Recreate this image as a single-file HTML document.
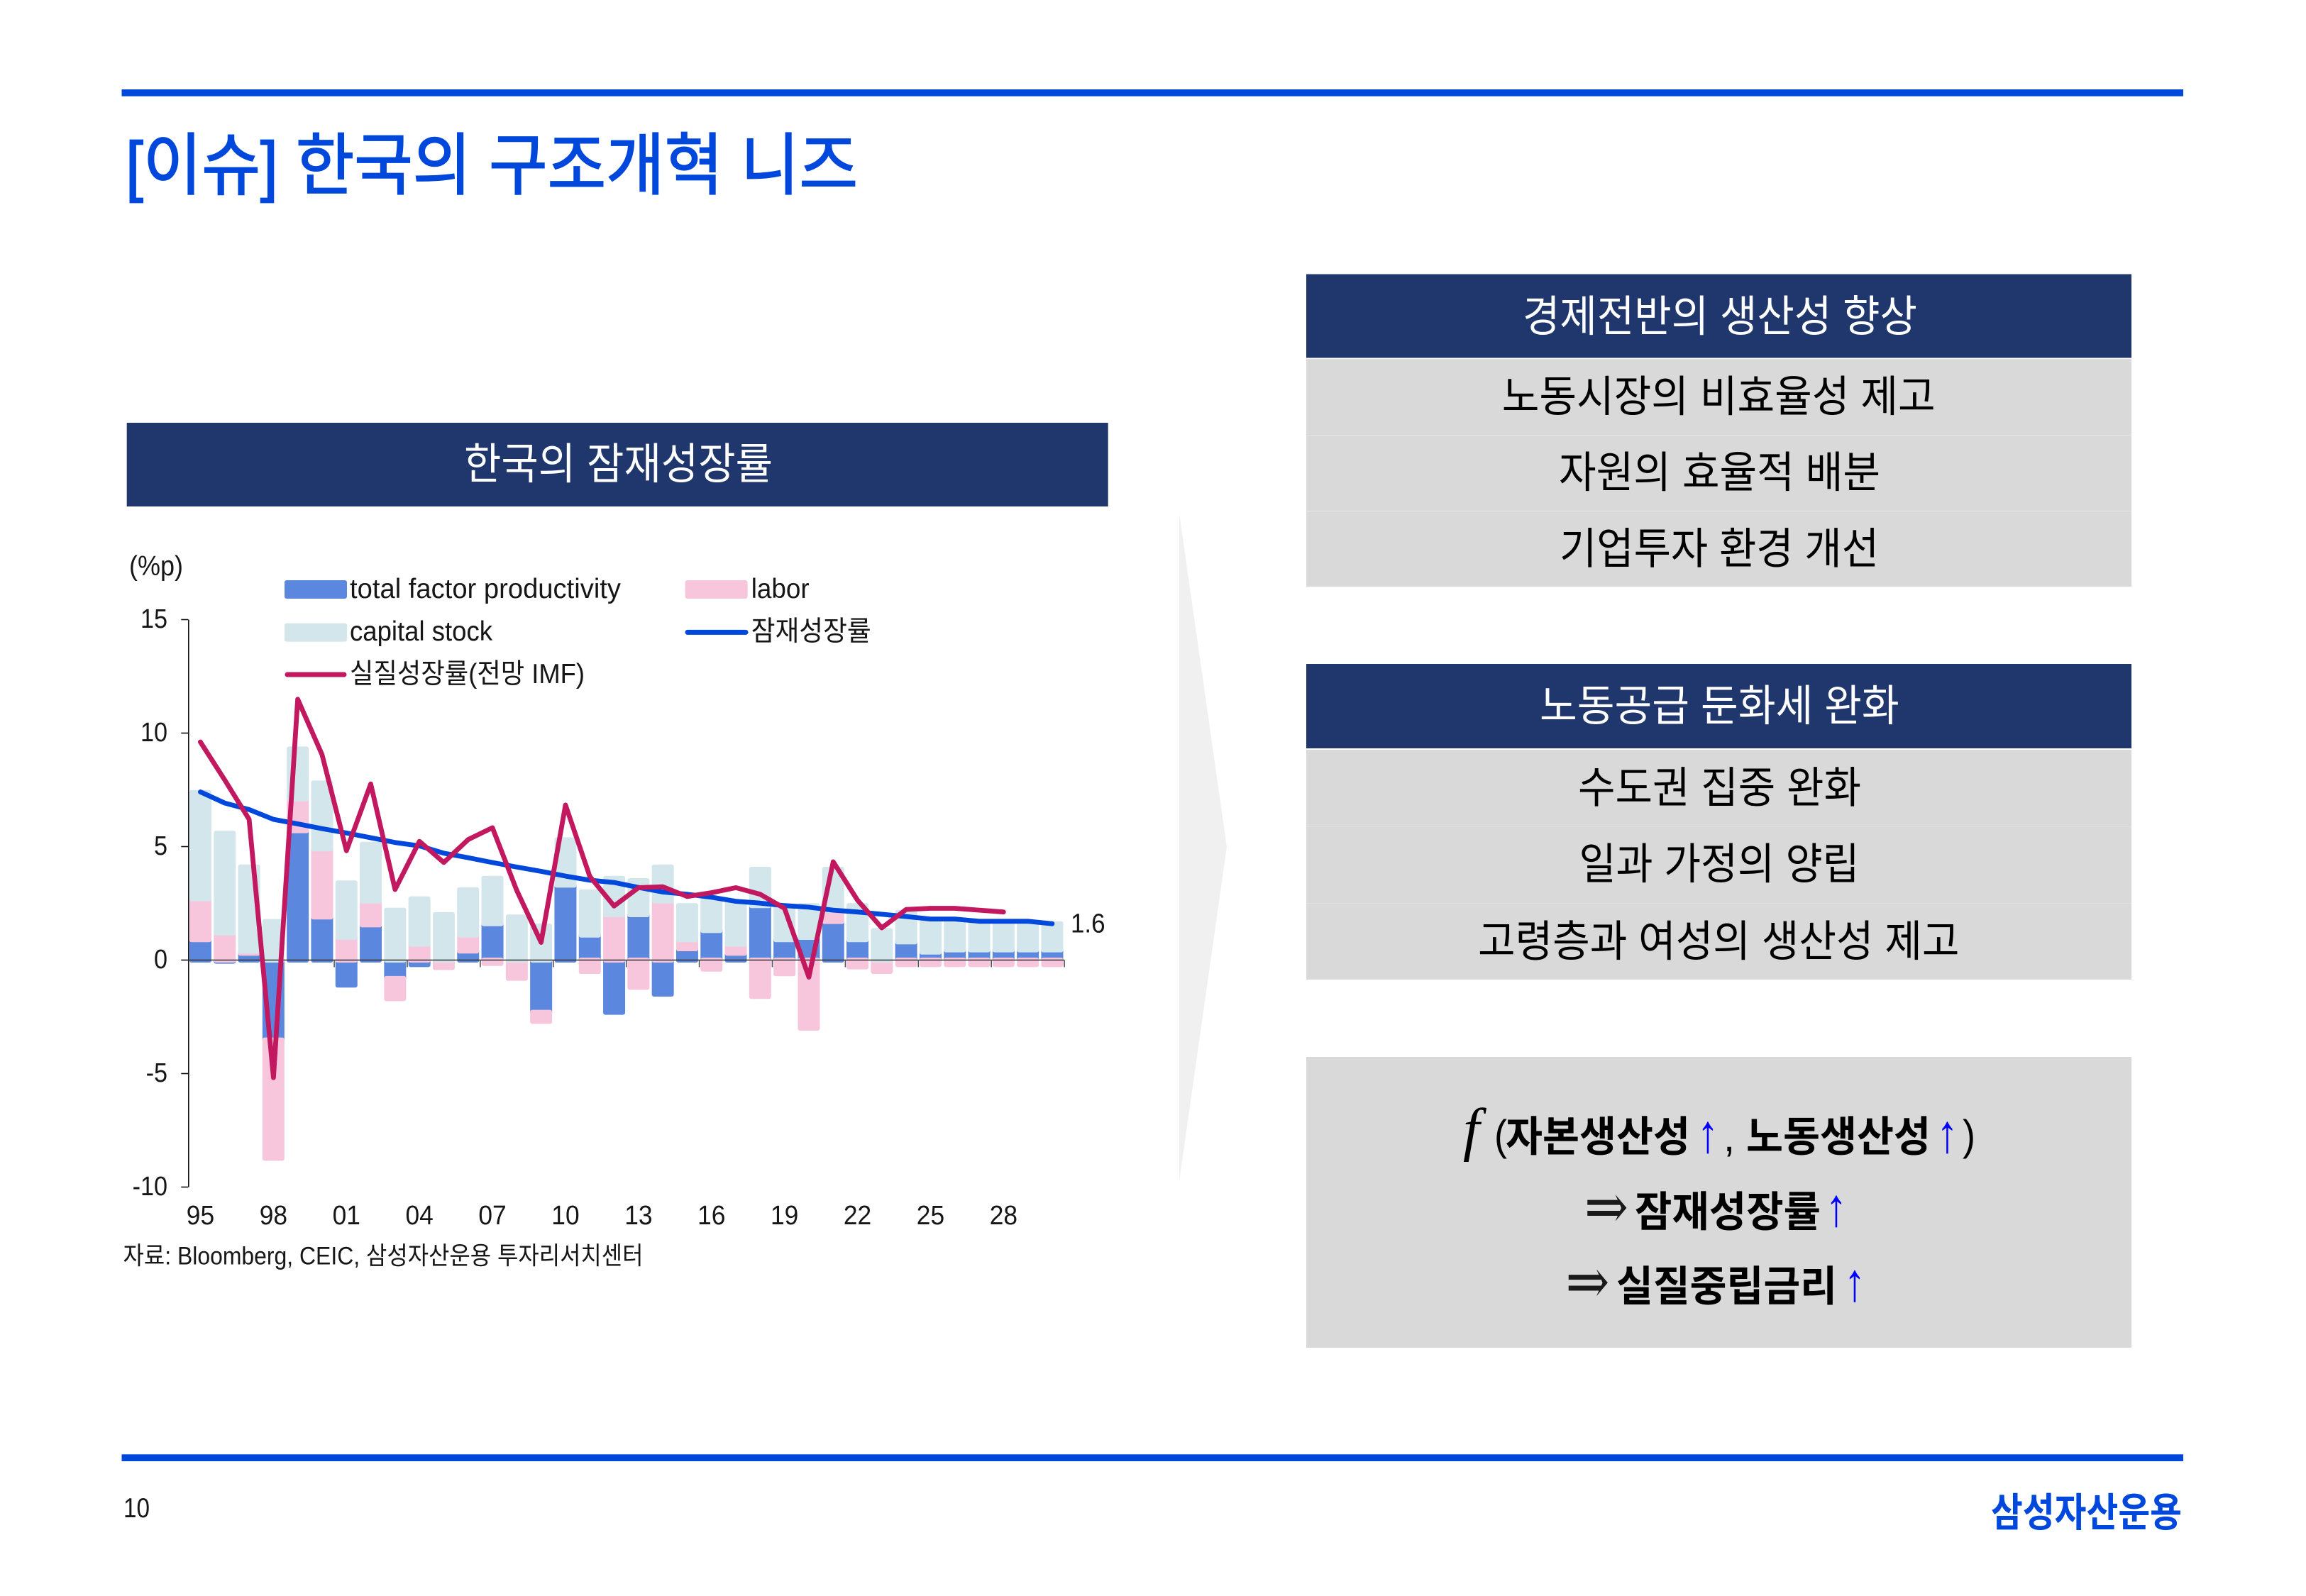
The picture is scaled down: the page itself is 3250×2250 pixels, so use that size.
<!DOCTYPE html>
<html lang="ko">
<head>
<meta charset="utf-8">
<title>[이슈] 한국의 구조개혁 니즈</title>
<style>
html,body{margin:0;padding:0;background:#fff;}
body{width:3250px;height:2250px;overflow:hidden;}
svg{display:block;}
text{font-family:"Liberation Sans","Noto Sans CJK KR",sans-serif;}
.row{font-size:61px;fill:#000;}
.hd{font-size:61px;fill:#fff;}
.lg{font-size:39px;fill:#161616;}
.bx{font-size:59px;font-weight:700;fill:#000;}
.up{font-size:76px;fill:#0000ff;text-anchor:middle;font-family:"Liberation Serif","DejaVu Serif",serif;}
.im{font-size:74px;fill:#1a1a1a;font-family:"Liberation Serif","DejaVu Serif",serif;}
</style>
</head>
<body>
<svg id="page" xmlns="http://www.w3.org/2000/svg" width="3250" height="2250" viewBox="0 0 3250 2250">
  <rect x="0" y="0" width="3250" height="2250" fill="#fff"/>
  <rect x="171.5" y="126" width="2905.5" height="9.7" fill="#0047dc"/>
  <text x="177" y="266" font-size="95" fill="#0047dc" stroke="#0047dc" stroke-width="1.8" textLength="1032" lengthAdjust="spacingAndGlyphs">[이슈] 한국의 구조개혁 니즈</text>

  <rect x="178.7" y="596" width="1383" height="118" fill="#20376d"/>
  <text class="hd" x="654" y="675" textLength="435" lengthAdjust="spacingAndGlyphs">한국의 잠재성장률</text>

  <g id="chart"></g>

  <text class="lg" x="182" y="811" textLength="76" lengthAdjust="spacingAndGlyphs">(%p)</text>

  <g>
    <rect x="401" y="818" width="88" height="26" rx="3" fill="#5b87de"/>
    <text class="lg" x="493" y="843" textLength="382" lengthAdjust="spacingAndGlyphs">total factor productivity</text>
    <rect x="965.6" y="818" width="88" height="26" rx="3" fill="#f7c6dd"/>
    <text class="lg" x="1058.7" y="843" textLength="82" lengthAdjust="spacingAndGlyphs">labor</text>
    <rect x="401" y="878.6" width="88" height="26" rx="3" fill="#d2e6eb"/>
    <text class="lg" x="493" y="903" textLength="201" lengthAdjust="spacingAndGlyphs">capital stock</text>
    <line x1="969" y1="891.4" x2="1051" y2="891.4" stroke="#0047dc" stroke-width="7" stroke-linecap="round"/>
    <text class="lg" x="1058.7" y="903" textLength="169" lengthAdjust="spacingAndGlyphs">잠재성장률</text>
    <line x1="405" y1="951" x2="485" y2="951" stroke="#c1185f" stroke-width="7" stroke-linecap="round"/>
    <text class="lg" x="493" y="963" textLength="331" lengthAdjust="spacingAndGlyphs">실질성장률(전망 IMF)</text>
  </g>

  <text x="173.5" y="1782.5" font-size="35" fill="#161616" textLength="733" lengthAdjust="spacingAndGlyphs">자료: Bloomberg, CEIC, 삼성자산운용 투자리서치센터</text>

  <polygon points="1662,724 1729,1194 1662,1665" fill="#f0f0f0"/>

  <g>
    <rect x="1841" y="386.5" width="1163" height="118" fill="#20376d"/>
    <text class="hd" x="2146" y="467" textLength="556" lengthAdjust="spacingAndGlyphs">경제전반의 생산성 향상</text>
    <rect x="1841" y="506.2" width="1163" height="321" fill="#d9d9d9"/>
    <rect x="1841" y="613" width="1163" height="1" fill="#e6e6e6"/>
    <rect x="1841" y="720" width="1163" height="1" fill="#e6e6e6"/>
    <text class="row" x="2116.7" y="580" textLength="611" lengthAdjust="spacingAndGlyphs">노동시장의 비효율성 제고</text>
    <text class="row" x="2197" y="687" textLength="453" lengthAdjust="spacingAndGlyphs">자원의 효율적 배분</text>
    <text class="row" x="2198" y="794.5" textLength="450" lengthAdjust="spacingAndGlyphs">기업투자 환경 개선</text>
  </g>

  <g>
    <rect x="1841" y="936" width="1163" height="119" fill="#20376d"/>
    <text class="hd" x="2170" y="1016" textLength="506.7" lengthAdjust="spacingAndGlyphs">노동공급 둔화세 완화</text>
    <rect x="1841" y="1057" width="1163" height="324" fill="#d9d9d9"/>
    <rect x="1841" y="1165" width="1163" height="1" fill="#e0e0e0"/>
    <rect x="1841" y="1273" width="1163" height="1" fill="#e0e0e0"/>
    <text class="row" x="2224" y="1131.5" textLength="399" lengthAdjust="spacingAndGlyphs">수도권 집중 완화</text>
    <text class="row" x="2225.5" y="1239" textLength="395" lengthAdjust="spacingAndGlyphs">일과 가정의 양립</text>
    <text class="row" x="2083" y="1348" textLength="678.5" lengthAdjust="spacingAndGlyphs">고령층과 여성의 생산성 제고</text>
  </g>

  <g>
    <rect x="1841" y="1490" width="1163" height="410" fill="#d9d9d9"/>
    <text x="2062" y="1620" font-size="84" font-style="italic" fill="#000" style="font-family:'Liberation Serif',serif">f</text>
    <text x="2106" y="1621" font-size="60" fill="#000" textLength="18" lengthAdjust="spacingAndGlyphs">(</text>
    <text class="bx" x="2122" y="1623" textLength="260" lengthAdjust="spacingAndGlyphs">자본생산성</text>
    <text class="up" transform="translate(2407 1624) scale(.8 1)">↑</text>
    <text x="2429" y="1623" font-size="58" fill="#000">,</text>
    <text class="bx" x="2461" y="1623" textLength="260" lengthAdjust="spacingAndGlyphs">노동생산성</text>
    <text class="up" transform="translate(2744.5 1624) scale(.8 1)">↑</text>
    <text x="2766" y="1621" font-size="60" fill="#000" textLength="18" lengthAdjust="spacingAndGlyphs">)</text>

    <text class="im" transform="translate(2233 1731.5) scale(1 1.2)">⇒</text>
    <text class="bx" x="2304" y="1729" textLength="262" lengthAdjust="spacingAndGlyphs">잠재성장률</text>
    <text class="up" transform="translate(2588 1728) scale(.8 1)">↑</text>

    <text class="im" transform="translate(2206.5 1837) scale(1 1.2)">⇒</text>
    <text class="bx" x="2278" y="1834" textLength="311" lengthAdjust="spacingAndGlyphs">실질중립금리</text>
    <text class="up" transform="translate(2614 1833.7) scale(.8 1)">↑</text>
  </g>

  <rect x="171.5" y="2050.3" width="2905.5" height="9.7" fill="#0047dc"/>
  <text x="174" y="2139" font-size="39" fill="#161616" textLength="37" lengthAdjust="spacingAndGlyphs">10</text>
  <text x="2806" y="2152" font-size="56" font-weight="700" fill="#0047dc" textLength="269" lengthAdjust="spacingAndGlyphs">삼성자산운용</text>
</svg>

<script>
var categories = ["95","96","97","98","99","00","01","02","03","04","05","06","07","08","09","10","11","12","13","14","15","16","17","18","19","20","21","22","23","24","25","26","27","28","29","30"];
var tfpValues = [0.9,-0.05,0.3,-3.52,5.7,1.9,-1.1,1.55,-0.81,-0.2,0,0.4,1.6,0,-2.3,3.3,1.1,-2.3,2.0,-1.5,0.5,1.3,0.3,2.4,0.9,1.0,1.7,0.9,-0.05,0.8,0.35,0.45,0.45,0.45,0.45,0.45];
var laborValues = [1.8,1.19,0.1,-5.21,1.4,3.0,1.0,1.05,-0.89,0.7,-0.33,0.7,-0.15,-0.8,-0.4,0,-0.5,2.0,-1.2,2.6,0.4,-0.4,0.4,-1.6,-0.6,-3.0,0.5,-0.3,-0.45,-0.2,-0.2,-0.2,-0.2,-0.2,-0.2,-0.2];
var capitalValues = [4.68,4.4,3.7,1.7,2.2,2.9,2.4,2.5,2.2,2.0,2.0,2.0,2.0,1.9,1.5,2.0,1.9,1.6,1.5,1.5,1.5,1.4,1.85,1.6,1.45,1.4,1.8,1.5,1.3,1.3,1.3,1.2,1.2,1.2,1.2,1.15];
var potentialValues = [7.41,6.92,6.63,6.2,6.0,5.79,5.6,5.39,5.18,5.03,4.71,4.51,4.3,4.1,3.91,3.7,3.52,3.42,3.2,3.0,2.9,2.77,2.59,2.51,2.4,2.33,2.2,2.12,2.02,1.92,1.81,1.81,1.71,1.71,1.71,1.6];
var realValues = [9.61,7.93,6.2,-5.18,11.49,9.05,4.82,7.76,3.11,5.23,4.3,5.31,5.83,3.07,0.78,6.83,3.68,2.38,3.19,3.23,2.8,2.97,3.19,2.9,2.28,-0.75,4.33,2.64,1.42,2.23,2.28,2.28,2.2,2.12];
var yTickLabels = ["15","10","5","0","-5","-10"];
var endLabel = "1.6";

var NS = "http://www.w3.org/2000/svg";
var chart = document.getElementById("chart");
var plotLeft = 265.3, catStep = 34.3, barWidth = 31, zeroY = 1353.5, unitY = 32, pad = 3.5;

function xCenter(i){ return plotLeft + catStep * (i + 0.5); }
function xEdge(i){ return plotLeft + catStep * i; }
function yPos(v){ return zeroY - unitY * v; }
function make(tag, attrs){
  var el = document.createElementNS(NS, tag);
  for (var k in attrs) el.setAttribute(k, attrs[k]);
  chart.appendChild(el);
  return el;
}

var posStack = categories.map(function(){ return 0; });
var negStack = categories.map(function(){ return 0; });

function drawSeries(values, color){
  values.forEach(function(v, i){
    if (v === 0) return;
    var from, to;
    if (v > 0){ from = posStack[i]; to = from + v; posStack[i] = to; }
    else { from = negStack[i]; to = from + v; negStack[i] = to; }
    var top = yPos(Math.max(from, to)) - pad;
    var bottom = yPos(Math.min(from, to)) + pad;
    var r = make("rect", {x: xCenter(i) - barWidth / 2, y: top, width: barWidth, height: bottom - top, rx: 3, fill: color});
    
    
  });
}
drawSeries(tfpValues, "#5b87de");
drawSeries(laborValues, "#f7c6dd");
drawSeries(capitalValues, "#d2e6eb");

var yAxis = make("line", {x1: plotLeft + 0.5, y1: yPos(15), x2: plotLeft + 0.5, y2: yPos(-10), stroke: "#111", "stroke-width": 1.6});



yTickLabels.forEach(function(lbl){
  var v = Number(lbl);
  var t = make("line", {x1: plotLeft - 10, y1: yPos(v), x2: plotLeft, y2: yPos(v), stroke: "#111", "stroke-width": 1.6});
  
  
  var tx = make("text", {transform: "translate(236 " + (yPos(v) + 11.5) + ") scale(.9 1)", "text-anchor": "end", "font-size": 38, fill: "#161616"});
  tx.textContent = lbl;
  
  
});

var zero = make("line", {x1: plotLeft, y1: yPos(0), x2: xEdge(categories.length), y2: yPos(0), stroke: "#333", "stroke-width": 1.6});



categories.forEach(function(c, i){
  if (i % 3 === 0){
    var tk = make("line", {x1: xEdge(i + 3), y1: yPos(0), x2: xEdge(i + 3), y2: yPos(0) + 10, stroke: "#555", "stroke-width": 1.6});
    
    
    if (i < 34){
      var lb = make("text", {transform: "translate(" + xCenter(i) + " 1726) scale(.93 1)", "text-anchor": "middle", "font-size": 38, fill: "#161616"});
      lb.textContent = c;
      
      
    }
  }
});

function linePath(values){
  return values.map(function(v, i){ return (i ? "L" : "M") + xCenter(i).toFixed(1) + " " + yPos(v).toFixed(1); }).join(" ");
}
var potLine = make("path", {d: linePath(potentialValues), fill: "none", stroke: "#0047dc", "stroke-width": 6.8, "stroke-linejoin": "round", "stroke-linecap": "round"});


var realLine = make("path", {d: linePath(realValues), fill: "none", stroke: "#c1185f", "stroke-width": 6.8, "stroke-linejoin": "round", "stroke-linecap": "round"});



var endTx = make("text", {transform: "translate(1509 1314.7) scale(.92 1)", "font-size": 38, fill: "#161616"});
endTx.textContent = endLabel;


</script>
</body>
</html>
